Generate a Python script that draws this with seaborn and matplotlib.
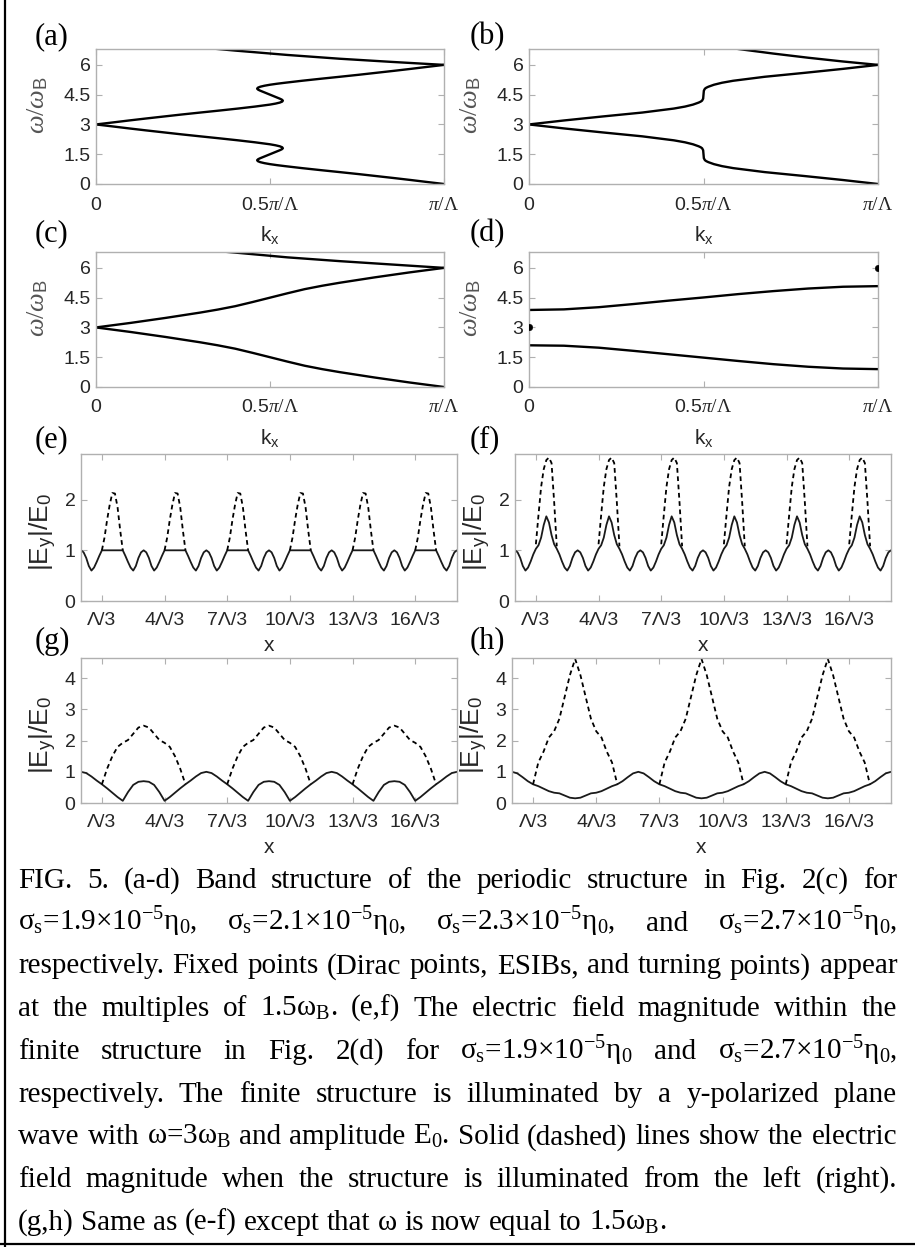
import numpy as np
import pandas as pd
import matplotlib
matplotlib.use("Agg")
import matplotlib.pyplot as plt
from matplotlib.lines import Line2D
import seaborn as sns

W, H = 915, 1247

# ---------------- band structure data (k in units of pi/Lambda, omega in omega_B)
# (a) sigma_s = 1.9e-5 eta0 : S-shaped bands, traced along omega
w_a_low = [0.0, 0.1, 0.2, 0.3, 0.4, 0.5, 0.6, 0.7, 0.8, 0.9, 0.95, 1.0, 1.05, 1.1, 1.15, 1.2, 1.25, 1.3,
           1.4, 1.5, 1.6, 1.7, 1.75, 1.8, 1.85, 1.9, 1.95, 2.0, 2.1, 2.2, 2.3, 2.4, 2.5, 2.6, 2.7, 2.8, 2.9, 3.0]
w_a_up = [6.0, 5.9, 5.8, 5.7, 5.6, 5.5, 5.4, 5.3, 5.2, 5.1, 5.05, 5.0, 4.95, 4.9, 4.85, 4.8, 4.75, 4.7,
          4.6, 4.5, 4.4, 4.3, 4.25, 4.2, 4.15, 4.1, 4.05, 4.0, 3.9, 3.8, 3.7, 3.6, 3.5, 3.4, 3.3, 3.2, 3.1, 3.0]
k_a = [1.0, 0.952, 0.905, 0.856, 0.805, 0.754, 0.70, 0.645, 0.592, 0.543, 0.52, 0.50, 0.484, 0.472, 0.465,
       0.463, 0.466, 0.472, 0.486, 0.5, 0.514, 0.528, 0.534, 0.537, 0.535, 0.528, 0.516, 0.5, 0.457, 0.408,
       0.355, 0.30, 0.246, 0.195, 0.144, 0.095, 0.048, 0.0]
k_a_top = [1.0, 0.85, 0.7, 0.55, 0.4, 0.3]
w_a_top = [6.0, 6.15, 6.31, 6.5, 6.72, 6.88]

# (b) sigma_s = 2.1e-5 eta0
w_b_low = [0.0, 0.2, 0.4, 0.6, 0.8, 0.9, 1.0, 1.1, 1.15, 1.2, 1.3, 1.5, 1.7, 1.8, 1.85, 1.9, 2.0, 2.1, 2.2, 2.4, 2.6, 2.8, 3.0]
w_b_up = [6.0, 5.8, 5.6, 5.4, 5.2, 5.1, 5.0, 4.9, 4.85, 4.8, 4.7, 4.5, 4.3, 4.2, 4.15, 4.1, 4.0, 3.9, 3.8, 3.6, 3.4, 3.2, 3.0]
k_b = [1.0, 0.90, 0.79, 0.675, 0.585, 0.553, 0.530, 0.514, 0.508, 0.504, 0.501, 0.5, 0.499, 0.496, 0.492,
       0.486, 0.47, 0.447, 0.415, 0.325, 0.21, 0.10, 0.0]
k_b_top = [1.0, 0.9, 0.8, 0.7, 0.6, 0.55]
w_b_top = [6.0, 6.17, 6.36, 6.57, 6.8, 6.92]

# (c) sigma_s = 2.3e-5 eta0
k_c = [0, 0.1, 0.2, 0.3, 0.35, 0.4, 0.45, 0.5, 0.55, 0.6, 0.65, 0.7, 0.8, 0.9, 1.0]
w_c_low = [3.0, 2.77, 2.52, 2.25, 2.1, 1.93, 1.72, 1.5, 1.28, 1.07, 0.9, 0.75, 0.48, 0.23, 0.0]
w_c_up = [3.0, 3.23, 3.48, 3.75, 3.9, 4.07, 4.28, 4.5, 4.72, 4.93, 5.1, 5.25, 5.52, 5.77, 6.0]
k_c_top = [1.0, 0.85, 0.7, 0.55, 0.4, 0.3]
w_c_top = [6.0, 6.17, 6.34, 6.53, 6.77, 6.92]

# (d) sigma_s = 2.7e-5 eta0 : gapped bands + fixed points
k_d = [0, 0.1, 0.2, 0.3, 0.4, 0.5, 0.6, 0.7, 0.8, 0.9, 1.0]
w_d_up = [3.88, 3.91, 4.02, 4.18, 4.35, 4.51, 4.68, 4.83, 4.96, 5.05, 5.08]
w_d_low = [2.1, 2.08, 1.98, 1.82, 1.65, 1.48, 1.31, 1.15, 1.02, 0.93, 0.9]
k_d_dots = [0, 1]
w_d_dots = [3, 6]

# ---------------- field magnitude data |Ey|/E0, one period
# (e), (f): period Lambda, samples every Lambda/24
e_solid = [1.0, 0.96, 0.85, 0.69, 0.6, 0.66, 0.77, 0.89, 1.0,
           1.0, 1.0, 1.0, 1.0, 1.0, 1.0, 1.0,
           1.0, 0.89, 0.77, 0.66, 0.6, 0.69, 0.85, 0.96, 1.0]
e_dashed = [1.0, 1.25, 1.6, 1.9, 2.13, 2.12, 1.85, 1.4, 1.0]   # Lambda/3 .. 2Lambda/3
f_solid = [1.0, 0.96, 0.85, 0.69, 0.6, 0.66, 0.78, 0.92, 1.03,
           1.1, 1.25, 1.5, 1.67, 1.55, 1.3, 1.12,
           1.03, 0.92, 0.78, 0.66, 0.6, 0.69, 0.85, 0.96, 1.0]
f_dashed = [1.12, 1.7, 2.25, 2.6, 2.78, 2.83, 2.72, 1.95, 1.08]
# (g), (h): period 2 Lambda, samples every Lambda/12
g_solid = [1.0, 0.96, 0.85, 0.72, 0.6, 0.47, 0.33, 0.19, 0.07, 0.35, 0.58, 0.68, 0.7,
           0.68, 0.58, 0.35, 0.07, 0.19, 0.33, 0.47, 0.6, 0.72, 0.85, 0.96, 1.0]
g_dashed = [0.6, 1.1, 1.5, 1.8, 1.93, 2.02, 2.22, 2.42, 2.48,
            2.42, 2.22, 2.02, 1.93, 1.8, 1.5, 1.1, 0.6]            # Lambda/3 .. 5Lambda/3
h_solid = [1.0, 0.95, 0.83, 0.7, 0.6, 0.54, 0.46, 0.38, 0.33, 0.31, 0.24, 0.17, 0.15,
           0.17, 0.24, 0.31, 0.33, 0.38, 0.46, 0.54, 0.6, 0.7, 0.83, 0.95, 1.0]
h_dashed = [0.6, 1.3, 1.65, 2.1, 2.3, 2.7, 3.4, 4.1, 4.62,
            4.1, 3.4, 2.7, 2.3, 2.1, 1.65, 1.3, 0.6]

x_ticks = [1/3, 4/3, 7/3, 10/3, 13/3, 16/3]
x_ticklabels = ["Λ/3", "4Λ/3", "7Λ/3", "10Λ/3", "13Λ/3", "16Λ/3"]

caption = [
    "FIG. 5. (a-d) Band structure of the periodic structure in Fig. 2(c) for",
    r"σ$_\mathrm{s}$=1.9×10$^{-5}$η$_0$, σ$_\mathrm{s}$=2.1×10$^{-5}$η$_0$, σ$_\mathrm{s}$=2.3×10$^{-5}$η$_0$, and σ$_\mathrm{s}$=2.7×10$^{-5}$η$_0$,",
    "respectively. Fixed points (Dirac points, ESIBs, and turning points) appear",
    r"at the multiples of 1.5ω$_\mathrm{B}$. (e,f) The electric field magnitude within the",
    r"finite structure in Fig. 2(d) for σ$_\mathrm{s}$=1.9×10$^{-5}$η$_0$ and σ$_\mathrm{s}$=2.7×10$^{-5}$η$_0$,",
    "respectively. The finite structure is illuminated by a y-polarized plane",
    r"wave with ω=3ω$_\mathrm{B}$ and amplitude E$_0$. Solid (dashed) lines show the electric",
    "field magnitude when the structure is illuminated from the left (right).",
    r"(g,h) Same as (e-f) except that ω is now equal to 1.5ω$_\mathrm{B}$.",
]

# ---------------- style
sns.set_style("ticks")
plt.rcParams["font.family"] = ["Liberation Sans", "DejaVu Sans"]
plt.rcParams["mathtext.fontset"] = "custom"
plt.rcParams["mathtext.rm"] = "Liberation Serif"
plt.rcParams["mathtext.it"] = "Liberation Serif:italic"
plt.rcParams["mathtext.sf"] = "Liberation Sans"

GRAY = "#b0b0b0"
TXT = "#262626"

fig = plt.figure(figsize=(W / 100, H / 100), dpi=100)


def px_axes(l, t, r, b):
    ax = fig.add_axes([l / W, 1 - b / H, (r - l) / W, (b - t) / H])
    ax._px = (l, t, r, b)
    return ax


def style(ax, xpad):
    for s in ax.spines.values():
        s.set_visible(True)
        s.set_color(GRAY)
        s.set_linewidth(1.0)
    ax.tick_params(direction="in", top=True, right=True, length=4, width=0.8,
                   color=GRAY, labelcolor=TXT, labelsize=14)
    ax.tick_params(axis="x", pad=xpad)
    ax.tick_params(axis="y", pad=4)


def place_labels(ax, xlab_top, ylab_right, ylab_mid):
    # label positions given in figure pixels
    l, t, r, b = ax._px
    ax.xaxis.set_label_coords(0.5, -(xlab_top - b) / (b - t))
    ax.yaxis.set_label_coords((ylab_right - l) / (r - l), (b - ylab_mid) / (b - t))


def band_panel(ax, curves, dots=None):
    for k, w in curves:
        sns.lineplot(x=k, y=w, sort=False, estimator=None, color="k", lw=1.7, ax=ax)
    if dots is not None:
        sns.scatterplot(x=dots[0], y=dots[1], color="k", s=22, edgecolor="k", ax=ax, zorder=5)
    ax.set_xlim(0, 1)
    ax.set_ylim(0, 6.8)
    ax.set_xticks([0, 0.5, 1])
    ax.set_xticklabels(["0", r"0.5$\pi/\Lambda$", r"$\pi/\Lambda$"])
    ax.set_yticks([0, 1.5, 3, 4.5, 6])
    ax.set_yticklabels(["0", "1.5", "3", "4.5", "6"])
    ax.set_xlabel(r"k$_\mathsf{x}$", fontsize=15, color=TXT)
    ax.set_ylabel(r"$\omega/\omega_\mathsf{B}$", fontsize=19, color="#555555")
    style(ax, 9)
    l, t, r, b = ax._px
    place_labels(ax, b + 40, l - 46, t + 56)


def field_panel(ax, period, n, solid, dashed, d_start, ymax, yticks):
    grid = np.arange(len(solid)) / (len(solid) - 1) * period
    xs, ys = [], []
    for p in range(n):
        xs += list(p * period + grid)
        ys += list(solid)
    sns.lineplot(x=xs, y=ys, sort=False, estimator=None, color="#1a1a1a", lw=1.3, ax=ax)
    step = grid[1]
    rows = []
    for p in range(n):
        for i, v in enumerate(dashed):
            rows.append({"x": p * period + d_start + i * step, "y": v, "seg": p})
    df = pd.DataFrame(rows)
    sns.lineplot(data=df, x="x", y="y", units="seg", estimator=None, sort=False,
                 color="k", lw=1.3, ax=ax)
    for ln in ax.lines[1:]:
        ln.set_dashes((2.6, 2.0))
    ax.set_xlim(0, 6)
    ax.set_ylim(0, ymax)
    ax.set_xticks(x_ticks)
    ax.set_xticklabels(x_ticklabels)
    ax.set_yticks(yticks)
    ax.set_xlabel("x", fontsize=15, color=TXT)
    ax.set_ylabel(r"|E$_\mathsf{y}$|/E$_\mathsf{0}$", fontsize=19, color=TXT)
    style(ax, 8)
    l, t, r, b = ax._px
    place_labels(ax, b + 35, l - 22, (t + b) / 2 + 4)


ax_a = px_axes(96, 49, 444, 184)
band_panel(ax_a, [(k_a, w_a_low), (k_a, w_a_up), (k_a_top, w_a_top)])
ax_b = px_axes(529, 49, 878, 184)
band_panel(ax_b, [(k_b, w_b_low), (k_b, w_b_up), (k_b_top, w_b_top)])
ax_c = px_axes(96, 252, 444, 387)
band_panel(ax_c, [(k_c, w_c_low), (k_c, w_c_up), (k_c_top, w_c_top)])
ax_d = px_axes(529, 252, 878, 387)
band_panel(ax_d, [(k_d, w_d_low), (k_d, w_d_up)], dots=(k_d_dots, w_d_dots))

ax_e = px_axes(81, 454, 457, 601)
field_panel(ax_e, 1.0, 6, e_solid, e_dashed, 1/3, 2.9, [0, 1, 2])
ax_f = px_axes(515, 454, 891, 601)
field_panel(ax_f, 1.0, 6, f_solid, f_dashed, 1/3, 2.9, [0, 1, 2])
ax_g = px_axes(81, 658, 457, 803)
field_panel(ax_g, 2.0, 3, g_solid, g_dashed, 1/3, 4.65, [0, 1, 2, 3, 4])
ax_h = px_axes(512, 658, 891, 803)
field_panel(ax_h, 2.0, 3, h_solid, h_dashed, 1/3, 4.65, [0, 1, 2, 3, 4])

# panel letters
letters = [("(a)", 52, 37), ("(b)", 487, 37), ("(c)", 52, 234), ("(d)", 487, 234),
           ("(e)", 52, 440), ("(f)", 485, 440), ("(g)", 52, 641), ("(h)", 487, 641)]
for txt, x, y in letters:
    fig.text(x / W, 1 - y / H, txt, ha="center", va="center", fontsize=22,
             family="Liberation Serif", color="k")

# caption, justified line by line
CAP_FS = 21
CAP_Y0, CAP_DY = 888, 42.7
XL, XR = 18, 897
renderer = fig.canvas.get_renderer()
for i, line in enumerate(caption):
    words = line.split(" ")
    yb = 1 - (CAP_Y0 + i * CAP_DY) / H
    arts = [fig.text(0, yb, wd, fontsize=CAP_FS, family="Liberation Serif",
                     va="baseline", color="k") for wd in words]
    widths = [a.get_window_extent(renderer=renderer).width for a in arts]
    space = CAP_FS * 100 / 72 * 0.25
    if i < len(caption) - 1:
        gap = max((XR - XL - sum(widths)) / (len(words) - 1), 2)
    else:
        gap = space
    x = XL
    for a, wd in zip(arts, widths):
        a.set_x(x / W)
        x += wd + gap

# frame lines on the left and bottom edge
fig.add_artist(Line2D([5 / W, 5 / W], [0, 1], transform=fig.transFigure, color="k", lw=1.6))
fig.add_artist(Line2D([0, 1], [3 / H, 3 / H], transform=fig.transFigure, color="k", lw=1.6))

fig.savefig("out.png", dpi=100)
